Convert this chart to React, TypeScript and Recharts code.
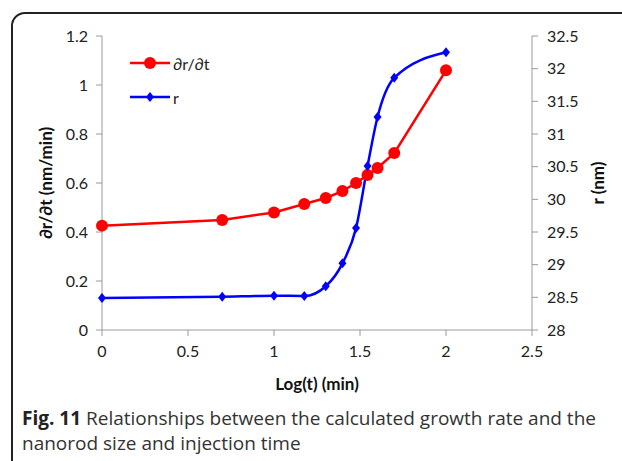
import { LineChart, Line, XAxis, YAxis } from 'recharts';

// log10 of injection time (min): 1, 5, 10, 15, 20, 25, 30, 35, 40, 50, 100
const LOG_T = [0, 0.699, 1, 1.176, 1.301, 1.398, 1.477, 1.544, 1.602, 1.699, 2];
const GROWTH_RATE = [0.426, 0.449, 0.48, 0.514, 0.539, 0.567, 0.6, 0.633, 0.661, 0.722, 1.06];
const RADIUS = [28.49, 28.51, 28.525, 28.52, 28.67, 29.02, 29.56, 30.51, 31.26, 31.86, 32.25];

const X_TICKS = [0, 0.5, 1, 1.5, 2, 2.5];
const LEFT_TICKS = [0, 0.2, 0.4, 0.6, 0.8, 1, 1.2];
const RIGHT_TICKS = [28, 28.5, 29, 29.5, 30, 30.5, 31, 31.5, 32, 32.5];

const data = LOG_T.map((x, i) => ({ x, rate: GROWTH_RATE[i], r: RADIUS[i] }));

const FONT = 'Lato, "Open Sans", sans-serif';
const AXIS = '#9a9a9a';
const tickStyle = { fontSize: 16, fill: '#222', fontFamily: FONT };

function Diamond(props: any) {
  const { cx, cy } = props;
  if (cx == null || cy == null) return null;
  return <polygon points={`${cx},${cy - 5} ${cx + 4},${cy} ${cx},${cy + 5} ${cx - 4},${cy}`} fill="#0000ff" />;
}

function LegendBox() {
  const row = (color: string, label: string, marker: JSX.Element) => (
    <div style={{ display: 'flex', alignItems: 'center', height: 34 }}>
      <svg width={40} height={16}>
        <line x1={0} y1={8} x2={40} y2={8} stroke={color} strokeWidth={2.5} />
        {marker}
      </svg>
      <span style={{ marginLeft: 3, fontSize: 16, fontFamily: FONT, color: '#222' }}>{label}</span>
    </div>
  );
  return (
    <div style={{ position: 'absolute', left: 130, top: 46 }}>
      {row('#ff0000', '∂r/∂t', <circle cx={20} cy={8} r={6} fill="#ff0000" />)}
      {row('#0000ff', 'r', <polygon points="20,3 24,8 20,13 16,8" fill="#0000ff" />)}
    </div>
  );
}

const titleStyle = {
  position: 'absolute' as const,
  whiteSpace: 'nowrap' as const,
  fontFamily: FONT,
  fontWeight: 700,
  fontSize: 17,
  color: '#111',
};

export default function App() {
  return (
    <div style={{ position: 'relative', width: 622, height: 461, overflow: 'hidden', background: '#fff' }}>
      <style>{'body{margin:0}'}</style>
      <div
        style={{
          position: 'absolute',
          left: 11,
          top: 12,
          width: 640,
          height: 480,
          border: '2px solid #222',
          borderRadius: 14,
          boxSizing: 'border-box',
        }}
      />
      <div style={{ position: 'absolute', left: 0, top: 0 }}>
        <LineChart width={622} height={461} data={data} margin={{ top: 36, right: 30, left: 42, bottom: 101 }}>
          <XAxis
            dataKey="x"
            type="number"
            domain={[0, 2.5]}
            ticks={X_TICKS}
            stroke={AXIS}
            tick={tickStyle}
            tickSize={6}
            tickMargin={10}
            height={30}
          />
          <YAxis
            yAxisId="left"
            domain={[0, 1.2]}
            ticks={LEFT_TICKS}
            stroke={AXIS}
            tick={tickStyle}
            tickSize={6}
            tickMargin={8}
            width={60}
          />
          <YAxis
            yAxisId="right"
            orientation="right"
            domain={[28, 32.5]}
            ticks={RIGHT_TICKS}
            stroke={AXIS}
            tick={tickStyle}
            tickSize={6}
            tickMargin={9}
            width={60}
          />
          <Line
            yAxisId="left"
            dataKey="rate"
            type="linear"
            stroke="#ff0000"
            strokeWidth={2.5}
            dot={{ r: 6, fill: '#ff0000', stroke: 'none' }}
            activeDot={false}
            isAnimationActive={false}
          />
          <Line
            yAxisId="right"
            dataKey="r"
            type="monotone"
            stroke="#0000ff"
            strokeWidth={2.5}
            dot={<Diamond />}
            activeDot={false}
            isAnimationActive={false}
          />
        </LineChart>
      </div>
      <LegendBox />
      <div style={{ ...titleStyle, left: 45, top: 183, transform: 'translate(-50%, -50%) rotate(-90deg)' }}>
        ∂r/∂t (nm/min)
      </div>
      <div style={{ ...titleStyle, left: 597, top: 183, transform: 'translate(-50%, -50%) rotate(-90deg)' }}>
        r (nm)
      </div>
      <div style={{ ...titleStyle, left: 317, top: 383, transform: 'translate(-50%, -50%)' }}>
        Log(t) (min)
      </div>
      <div
        style={{
          position: 'absolute',
          left: 22,
          top: 406,
          width: 600,
          fontFamily: '"Open Sans", sans-serif',
          fontSize: 19,
          lineHeight: '25px',
          color: '#333',
          whiteSpace: 'nowrap',
        }}
      >
        <b style={{ color: '#222' }}>Fig. 11</b> Relationships between the calculated growth rate and the
        <br />
        nanorod size and injection time
      </div>
    </div>
  );
}
